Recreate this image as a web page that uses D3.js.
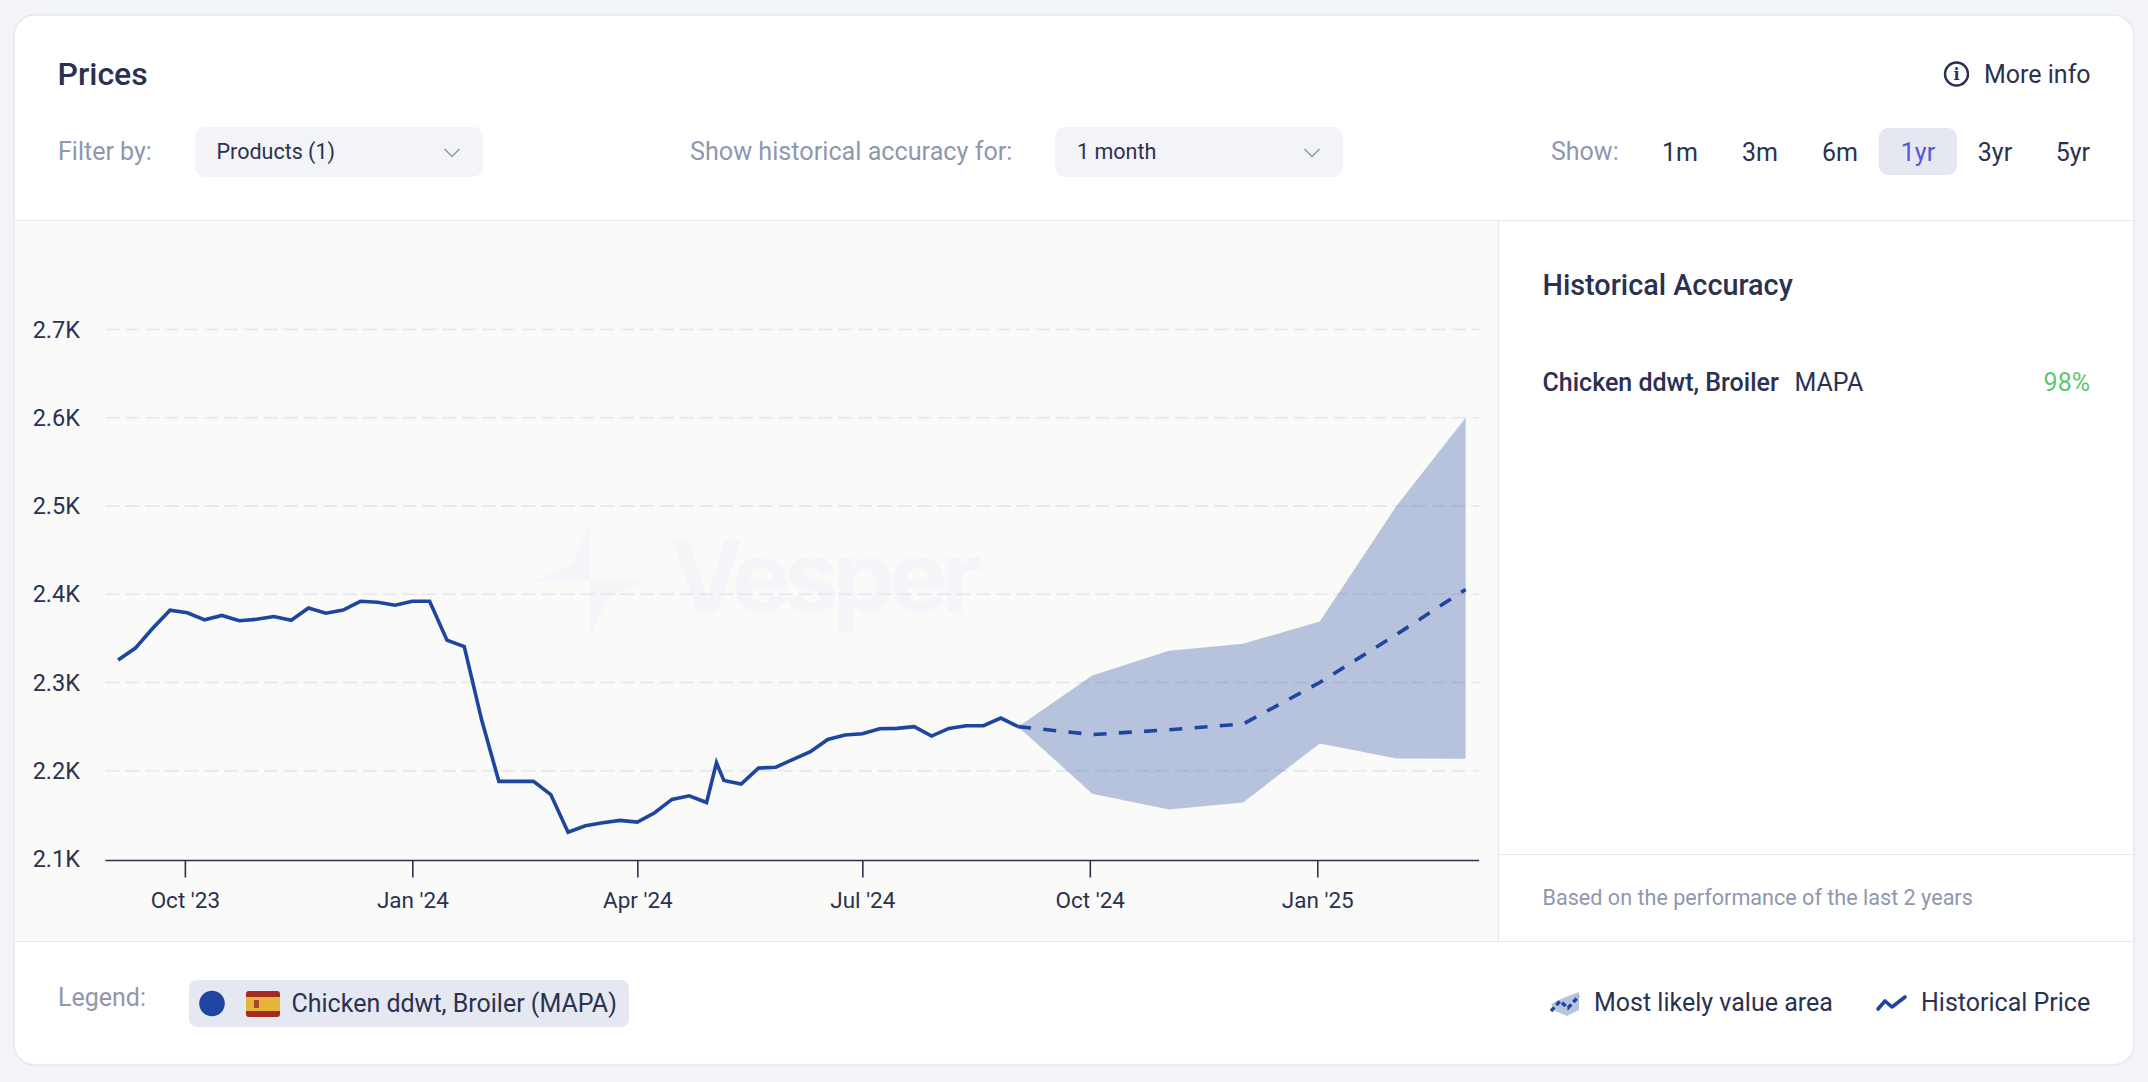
<!DOCTYPE html>
<html><head><meta charset="utf-8">
<script src="https://cdn.jsdelivr.net/npm/d3@7/dist/d3.min.js"></script>
<style>
html,body{margin:0;padding:0;background:#F3F4F8;overflow:hidden}
svg{display:block;font-family:Roboto,sans-serif}
</style></head><body>
<svg id="c" width="2148" height="1082"></svg>
<script>
const histDates=["2023-09-04","2023-09-11","2023-09-18","2023-09-25","2023-10-02","2023-10-09","2023-10-16","2023-10-23","2023-10-30","2023-11-06","2023-11-13","2023-11-20","2023-11-27","2023-12-04","2023-12-11","2023-12-18","2023-12-25","2024-01-01","2024-01-08","2024-01-15","2024-01-22","2024-01-29","2024-02-05","2024-02-12","2024-02-19","2024-02-26","2024-03-04","2024-03-11","2024-03-18","2024-03-25","2024-04-01","2024-04-08","2024-04-15","2024-04-22","2024-04-29","2024-05-03","2024-05-06","2024-05-13","2024-05-20","2024-05-27","2024-06-03","2024-06-10","2024-06-17","2024-06-24","2024-07-01","2024-07-08","2024-07-15","2024-07-22","2024-07-29","2024-08-05","2024-08-12","2024-08-19","2024-08-26","2024-09-02"];
const histValues=[2325.5,2339,2361.4,2382,2379,2371,2376,2370,2371.6,2374.7,2370.5,2384.5,2378.5,2382,2392,2391,2387.5,2392,2392,2348,2340.6,2258,2188,2188,2188,2173,2130.4,2137.6,2141,2143.7,2141.8,2152.4,2167.5,2171.6,2164,2209,2189,2185,2203,2204,2213,2221.5,2235.5,2240.5,2242,2247.6,2248,2250,2239.3,2248,2251,2251,2259.7,2250];
const foreDates=["2024-09-02","2024-10-02","2024-11-02","2024-12-02","2025-01-02","2025-02-02","2025-03-02"];
const foreMedian=[2250,2241,2246.4,2253,2300,2354.4,2405.5];
const foreUpper=[2250,2308,2336,2344,2369,2500,2600];
const foreLower=[2250,2174,2156,2164,2231,2214,2213.6];
const yTicks=[2100,2200,2300,2400,2500,2600,2700];
const xTicks=["2023-10-01","2024-01-01","2024-04-01","2024-07-01","2024-10-01","2025-01-01"];
const rangeOptions=["1m","3m","6m","1yr","3yr","5yr"];

const DARK="#2B3150",GRAY="#8F97AF",BLUE="#1E459F",LINE="#E6E8F0";
const P=d=>new Date(d+"T00:00:00Z");
const svg=d3.select("#c");
function T(x,y,s,o={}){return svg.append("text").attr("x",x).attr("y",y).attr("dy","0.35em").text(s)
  .attr("fill",o.c||DARK).attr("font-size",o.s||25).attr("font-weight",o.w||400).attr("text-anchor",o.a||"start");}

// card
svg.append("rect").attr("x",14).attr("y",15).attr("width",2120).attr("height",1050).attr("rx",21).attr("fill","#fff").attr("stroke",LINE).attr("stroke-width",1.5);
// chart panel
svg.append("rect").attr("x",14.5).attr("y",221).attr("width",1484).attr("height",720).attr("fill","#FAFAF8");
[[14,220.5,2134,220.5],[14,941.5,2134,941.5],[1498.5,221,1498.5,941],[1499,854.5,2134,854.5]].forEach(l=>
  svg.append("line").attr("x1",l[0]).attr("y1",l[1]).attr("x2",l[2]).attr("y2",l[3]).attr("stroke",LINE).attr("stroke-width",1.2));

// header
T(57.5,74,"Prices",{s:32,w:500});
svg.append("circle").attr("cx",1956.5).attr("cy",74).attr("r",11.5).attr("fill","none").attr("stroke",DARK).attr("stroke-width",2.4);
svg.append("text").attr("x",1956.5).attr("y",74).attr("dy","0.36em").attr("text-anchor","middle").attr("font-size",16).attr("font-weight",700).attr("font-family","'DejaVu Serif',serif").attr("fill",DARK).text("i");
T(1984,74,"More info");
T(58,151,"Filter by:",{c:GRAY});
function drop(x0,x1,tx,s){
  svg.append("rect").attr("x",x0).attr("y",127).attr("width",x1-x0).attr("height",50).attr("rx",10).attr("fill","#F3F4F8");
  T(tx,151.5,s,{s:21.5});
  const c=x1-31;
  svg.append("path").attr("d",`M${c-7.5} 149L${c} 156.5L${c+7.5} 149`).attr("fill","none").attr("stroke",GRAY).attr("stroke-width",1.5);
}
drop(195,483,216.5,"Products (1)");
T(690,151,"Show historical accuracy for:",{c:GRAY,s:25.2});
drop(1055,1343,1077,"1 month");
T(1551,151,"Show:",{c:GRAY});
svg.append("rect").attr("x",1879).attr("y",128).attr("width",78).attr("height",47).attr("rx",9).attr("fill","#E5E8F1");
const optX=[1680,1760,1840,1918,1995,2090];
rangeOptions.forEach((o,i)=>T(optX[i],152,o,{a:i==5?"end":"middle",c:o=="1yr"?"#5656D6":DARK}));

// side panel
T(1542.5,285,"Historical Accuracy",{s:28.8,w:500});
T(1542.5,382,"Chicken ddwt, Broiler",{w:500});
T(1794.5,382,"MAPA");
T(2090,382,"98%",{a:"end",c:"#5FC672"});
T(1542.5,897,"Based on the performance of the last 2 years",{s:21.6,c:GRAY});

// watermark
const WM="#F4F5F9";
svg.append("path").attr("d","M590 525L571.7 564.3L535 580.7L590 580.7ZM646.7 580.7L606.7 598.3L590 636.7L590 580.7Z").attr("fill",WM);
svg.append("text").attr("x",670).attr("y",611.7).attr("font-family","Inter,sans-serif").attr("font-weight",700).attr("font-size",99).attr("letter-spacing",-6.5).attr("fill",WM).text("Vesper");

// scales
const x=d3.scaleUtc().domain([new Date("2023-08-29T12:00:00Z"),P("2025-03-07")]).range([104.5,1478]);
const y=d3.scaleLinear().domain([2100,2700]).range([859,329.5]);

// grid
svg.append("g").selectAll("line").data(yTicks.slice(1)).join("line")
  .attr("x1",105.5).attr("x2",1479).attr("y1",d=>y(d)).attr("y2",d=>y(d))
  .attr("stroke","#E6E9F2").attr("stroke-width",1.8).attr("stroke-dasharray","14 5.8");

// area
const area=d3.area().x(d=>x(P(d.date))).y0(d=>y(d.lo)).y1(d=>y(d.hi));
svg.append("path").datum(foreDates.map((date,i)=>({date,lo:foreLower[i],hi:foreUpper[i]})))
  .attr("d",area).attr("fill",BLUE).attr("fill-opacity",0.3);

// lines
const line=d3.line().x(d=>x(P(d[0]))).y(d=>y(d[1]));
svg.append("path").attr("d",line(d3.zip(histDates,histValues))).attr("fill","none").attr("stroke",BLUE).attr("stroke-width",3.6).attr("stroke-linejoin","miter");
svg.append("path").attr("d",line(d3.zip(foreDates,foreMedian))).attr("fill","none").attr("stroke",BLUE).attr("stroke-width",3.6).attr("stroke-dasharray","13 12.3");

// axes
const ax=svg.append("g").attr("transform","translate(0,860.5)")
  .call(d3.axisBottom(x).tickValues(xTicks.map(P)).tickFormat(d3.utcFormat("%b '%y")).tickSize(17).tickPadding(15));
ax.select(".domain").attr("stroke",DARK).attr("stroke-width",1.6).attr("d","M105.5,0H1479");
ax.selectAll(".tick line").attr("stroke",DARK).attr("stroke-width",1.6);
ax.selectAll(".tick text").attr("fill",DARK).attr("font-size",22.5).attr("font-family","Roboto,sans-serif");
const ay=svg.append("g").attr("transform","translate(80,0)")
  .call(d3.axisLeft(y).tickValues(yTicks).tickFormat(d=>(d/1000).toFixed(1)+"K").tickSize(0).tickPadding(0));
ay.select(".domain").remove();
ay.selectAll(".tick text").attr("fill",DARK).attr("font-size",23.5).attr("font-family","Roboto,sans-serif");

// legend
T(58,997,"Legend:",{c:GRAY});
svg.append("rect").attr("x",189).attr("y",980).attr("width",440).attr("height",47).attr("rx",8).attr("fill","#E5E8F1");
svg.append("circle").attr("cx",212).attr("cy",1003.5).attr("r",12.8).attr("fill",BLUE);
svg.append("rect").attr("x",246).attr("y",991).attr("width",34).attr("height",26).attr("rx",3).attr("fill","#A52A22");
svg.append("rect").attr("x",246).attr("y",997).attr("width",34).attr("height",14).attr("fill","#E5B53A");
svg.append("rect").attr("x",254).attr("y",1000).attr("width",5).attr("height",8).attr("fill","#A5493A");
T(291.5,1003,"Chicken ddwt, Broiler (MAPA)");
svg.append("path").attr("d","M1551 1004L1563 998L1579 992L1579 1010L1567 1016L1555 1011Z").attr("fill","#B8C4DD");
svg.append("path").attr("d","M1551 1011L1560 1001L1568 1008L1579 996").attr("fill","none").attr("stroke",BLUE).attr("stroke-width",3.4).attr("stroke-dasharray","5 3");
T(1594,1002,"Most likely value area");
svg.append("path").attr("d","M1878 1009L1885 1001L1892 1007L1905 997").attr("fill","none").attr("stroke",BLUE).attr("stroke-width",3.6).attr("stroke-linecap","round").attr("stroke-linejoin","round");
T(1921,1002,"Historical Price");
</script></body></html>
